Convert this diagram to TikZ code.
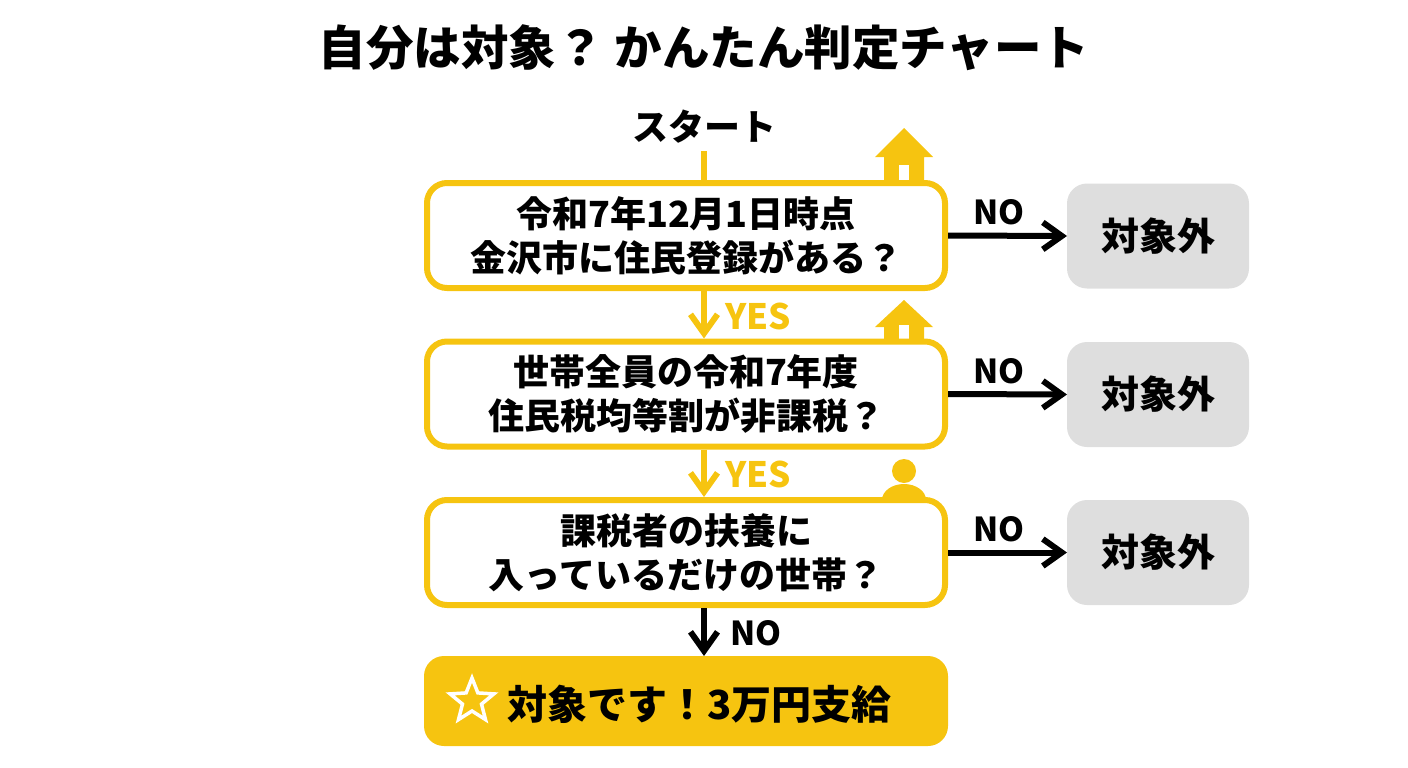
\documentclass[tikz,border=0pt]{standalone}
\usepackage{fontspec}
\setmainfont{Noto Sans CJK JP}[BoldFont={Noto Sans CJK JP Black}]
\usetikzlibrary{arrows.meta,shapes.geometric}
\definecolor{kiiro}{HTML}{F6C410}
\definecolor{hai}{HTML}{DEDEDE}
\tikzset{
    every node/.style={font=\bfseries, outer sep=0pt, inner sep=0pt},
    toi/.style={draw=kiiro, line width=6pt, outer sep=3pt, fill=white, rounded corners=20pt, minimum width=518pt, minimum height=105pt, align=center, font=\bfseries\fontsize{36}{44}\selectfont},
    gai/.style={fill=hai, rounded corners=20pt, minimum width=182pt, minimum height=105pt, font=\bfseries\fontsize{38}{44}\selectfont},
    yajiY/.style={draw=kiiro, line width=6pt, -{Straight Barb[length=19pt, width=27pt, line width=6pt]}},
    yajiN/.style={draw=black, line width=6pt, -{Straight Barb[length=19pt, width=27pt, line width=6pt]}},
    lblY/.style={text=kiiro, font=\bfseries\fontsize{35}{40}\selectfont},
    lblN/.style={font=\bfseries\fontsize{33}{40}\selectfont},
    icon/.style={fill=kiiro, draw=none},
}
\begin{document}
\begin{tikzpicture}[x=1pt, y=-1pt]
    \useasboundingbox (0,0) rectangle (1408,768);
    \node (title) at (704,48) {\fontsize{47.5}{56}\selectfont 自分は対象？ かんたん判定チャート};
    \node (start) at (704,127) {\fontsize{36}{44}\selectfont スタート};
    % icons first, the boxes go over them
    \fill [icon] (904,128) -- (933,157) -- (924,157) -- (924,185) -- (884,185) -- (884,157) -- (875,157) -- cycle;
    \fill [white] (899,165) rectangle (909,181);
    \fill [icon] (904,300) -- (933,327) -- (924,327) -- (924,343) -- (884,343) -- (884,327) -- (875,327) -- cycle;
    \fill [white] (899,325) rectangle (909,339);
    \fill [icon] (904,471) circle (12);
    \fill [icon] (882,500) arc (180:360:22 and 16) -- cycle;
    % questions
    \node [toi] (q1) at (686,235.5) {令和7年12月1日時点\\金沢市に住民登録がある？};
    \node [toi] (q2) at (686,394) {世帯全員の令和7年度\\住民税均等割が非課税？};
    \node [toi] (q3) at (686,552.5) {課税者の扶養に\\入っているだけの世帯？};
    \node [gai] (out1) at (1158,236) {対象外};
    \node [gai] (out2) at (1158,394.5) {対象外};
    \node [gai] (out3) at (1158,552.5) {対象外};
    \node [fill=kiiro, rounded corners=20pt, minimum width=524pt, minimum height=90pt] (goal) at (686,701) {};
    \node [anchor=west] (goaltxt) at (507,704) {\fontsize{40}{44}\selectfont 対象です！3万円支給};
    \node [star, star points=5, star point ratio=2.3, draw=white, line width=3.5pt, minimum size=46pt] (hoshi) at (472,701) {};
    % connectors
    \draw [kiiro, line width=6pt] (start.south |- 0,151) coordinate (s0) -- (s0 |- q1.north);
    \draw [yajiY] (s0 |- q1.south) -- (s0 |- q2.north);
    \draw [yajiY] (s0 |- q2.south) -- (s0 |- q3.north);
    \draw [yajiN] (s0 |- q3.south) -- (s0 |- goal.north);
    \foreach \i in {1,2,3} {
        \draw [yajiN] (q\i.east) -- (out\i.west);
    }
    \node [lblY] (y1) at (758,316) {YES};
    \node [lblY] (y2) at (758,474) {YES};
    \node [lblN] (n1) at (999,212) {NO};
    \node [lblN] (n2) at (999,371) {NO};
    \node [lblN] (n3) at (999,529) {NO};
    \node [lblN] (n4) at (756,633) {NO};
\end{tikzpicture}
\end{document}
